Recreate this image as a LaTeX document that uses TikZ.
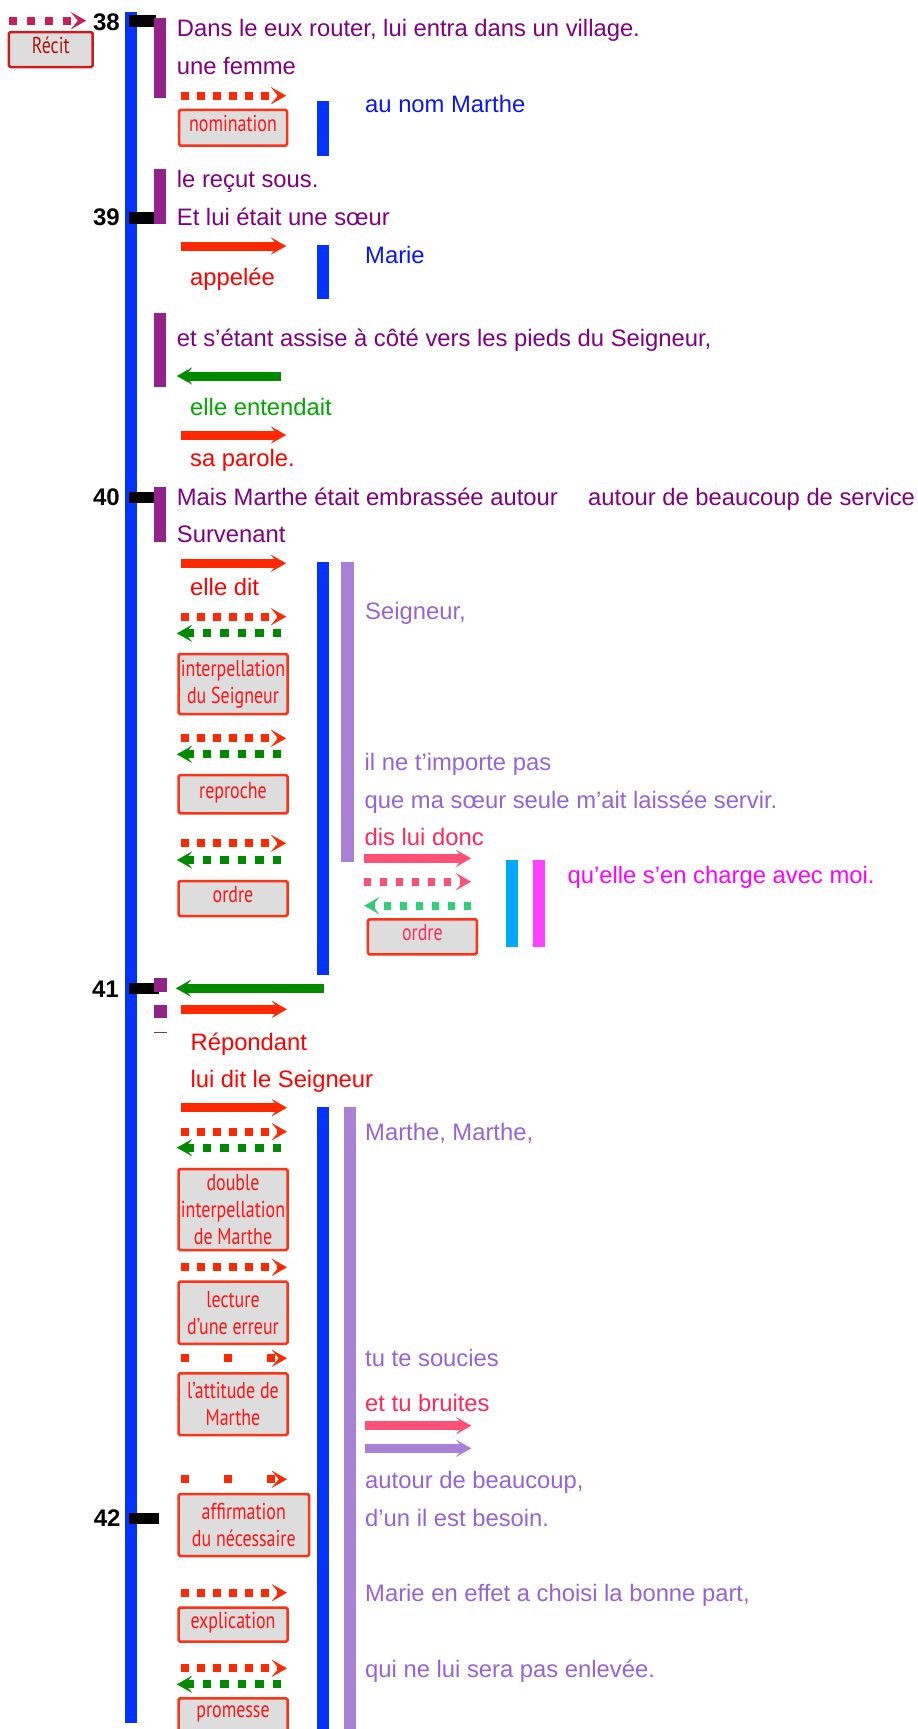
\documentclass[tikz,border=0pt]{standalone}
\usepackage{fontspec}
\setmainfont{Liberation Sans}
\newfontfamily\boxfont[FakeStretch=0.78]{PT Sans}
\usetikzlibrary{arrows.meta}
\definecolor{mainblue}{RGB}{4,50,255}
\definecolor{txtblue}{RGB}{10,20,255}
\definecolor{txtpurple}{RGB}{128,0,128}
\definecolor{barpurple}{RGB}{146,35,140}
\definecolor{txtred}{RGB}{255,0,0}
\definecolor{arrred}{RGB}{255,40,0}
\definecolor{arrgreen}{RGB}{0,138,0}
\definecolor{txtgreen}{RGB}{0,168,0}
\definecolor{txtlav}{RGB}{150,100,210}
\definecolor{barlav}{RGB}{169,128,214}
\definecolor{txtpink}{RGB}{255,40,90}
\definecolor{arrpink}{RGB}{255,80,120}
\definecolor{lightgreen}{RGB}{50,205,120}
\definecolor{barcyan}{RGB}{0,170,255}
\definecolor{barmag}{RGB}{255,64,255}
\definecolor{txtmag}{RGB}{255,0,255}
\definecolor{recitarr}{RGB}{200,30,90}
\definecolor{recitborder}{RGB}{200,30,30}
\definecolor{recittxt}{RGB}{175,20,10}
\definecolor{boxborder}{RGB}{255,50,20}
\definecolor{boxfill}{RGB}{221,221,221}
\definecolor{boxtxt}{RGB}{255,20,20}
\begin{document}
\begin{tikzpicture}[x=1pt,y=-1pt,
  txt/.style={anchor=base west, inner sep=0pt, font=\fontsize{23.8}{28}\selectfont},
  num/.style={anchor=east, inner sep=0pt, font=\fontsize{24}{28}\selectfont\bfseries},
  lbox/.style={draw=boxborder, fill=boxfill, line width=2.5pt, rounded corners=1.5pt,
     text=boxtxt, font=\boxfont\fontsize{23}{27}\selectfont, align=center, inner sep=0pt},
  sbox/.style={lbox, text height=17pt, text depth=9pt},
  tipstyle/.style={-{Stealth[length=15pt,width=17pt,inset=7pt,line width=0.1pt]}},
  solidarr/.style={tipstyle, line width=9pt},
  dotarr/.style={tipstyle, line width=8pt, dash pattern=on 8pt off 8pt},
  dotarrl/.style={tipstyle, line width=8pt, dash pattern=on 8.5pt off 9pt},
  sparsearr/.style={tipstyle, line width=8pt, dash pattern=on 8pt off 35pt},
  pinkdot/.style={tipstyle, line width=8pt, dash pattern=on 7pt off 9pt},
]
\useasboundingbox (0,0) rectangle (918,1729);
\clip (0,0) rectangle (918,1729);

% ---- main vertical bar
\fill[mainblue] (125,12) rectangle (137,1723);

% ---- verse ticks and numbers
\fill[black] (129,15) rectangle (156,27);
\fill[black] (129,212) rectangle (156,224);
\fill[black] (129,491.7) rectangle (156,503.3);
\fill[black] (128.6,983.3) rectangle (159,994.3);
\fill[black] (128.6,1512.7) rectangle (159,1524.3);
\node[num] (n38) at (120,22) {38};
\node[num] (n39) at (120,217.7) {39};
\node[num] (n40) at (120,497.5) {40};
\node[num] (n41) at (119,989.5) {41};
\node[num] (n42) at (120.7,1518.5) {42};

% ---- purple bars
\fill[barpurple] (154,18) rectangle (166,98);
\fill[barpurple] (154,169) rectangle (166,224);
\fill[barpurple] (154,313) rectangle (166,387);
\fill[barpurple] (154,487) rectangle (166,542);
\fill[barpurple] (154,978.3) rectangle (166.8,991.7);
\fill[barpurple] (154,1005) rectangle (166.8,1018.3);
\draw[barpurple, line width=1pt] (154,1032.3) -- (166.8,1032.3);

% ---- secondary bars
\fill[mainblue] (317,101) rectangle (329,156);
\fill[mainblue] (317,245) rectangle (329,299);
\fill[mainblue] (317,562.3) rectangle (329,975);
\fill[barlav] (341.2,562.3) rectangle (353.9,862.3);
\fill[barcyan] (506,860) rectangle (518,946.7);
\fill[barmag] (532.5,860) rectangle (544.5,946.7);
\fill[mainblue] (317,1106.7) rectangle (329,1740);
\fill[barlav] (343.6,1106.7) rectangle (356,1740);

% ---- Récit
\draw[tipstyle, recitarr, line width=8pt, dash pattern=on 8pt off 10pt] (9,20.7) coordinate (ra) -- (86,20.7) coordinate (rb);
\node[sbox, draw=recitborder, text=recittxt, minimum width=83.7pt, minimum height=35pt] (recit) at (50.8,49.5) {Récit};

% ---- texts
\node[txt, txtpurple] (t1) at (176.7,36) {Dans le eux router, lui entra dans un village.};
\node[txt, txtpurple] (t2) at (176.7,74) {une femme};
\node[txt, txtblue] (t3) at (365,112.7) {au nom Marthe};
\node[txt, txtpurple] (t4) at (176.7,187) {le reçut sous.};
\node[txt, txtpurple] (t5) at (176.7,225) {Et lui était une sœur};
\node[txt, txtblue] (t6) at (365,263) {Marie};
\node[txt, txtred] (t7) at (190,285) {appelée};
\node[txt, txtpurple] (t8) at (176.7,346) {et s’étant assise à côté vers les pieds du Seigneur,};
\node[txt, txtgreen] (t9) at (190,415) {elle entendait};
\node[txt, txtred] (t10) at (190,466.7) {sa parole.};
\node[txt, txtpurple] (t11) at (176.7,505) {Mais Marthe était embrassée autour};
\node[txt, txtpurple] (t12) at (588,505) {autour de beaucoup de service};
\node[txt, txtpurple] (t13) at (176.7,542.5) {Survenant};
\node[txt, txtred] (t14) at (190,595) {elle dit};
\node[txt, txtlav] (t15) at (365,619) {Seigneur,};
\node[txt, txtlav] (t16) at (364.5,770) {il ne t’importe pas};
\node[txt, txtlav] (t17) at (364.5,808.3) {que ma sœur seule m’ait laissée servir.};
\node[txt, txtpink] (t18) at (364.5,845) {dis lui donc};
\node[txt, txtmag] (t19) at (567.4,883.3) {qu’elle s’en charge avec moi.};
\node[txt, txtred] (t20) at (190.4,1050) {Répondant};
\node[txt, txtred] (t21) at (190.4,1087.7) {lui dit le Seigneur};
\node[txt, txtlav] (t22) at (365,1140) {Marthe, Marthe,};
\node[txt, txtlav] (t23) at (365,1366.7) {tu te soucies};
\node[txt, txtpink] (t24) at (365,1411.7) {et tu bruites};
\node[txt, txtlav] (t25) at (365,1488.3) {autour de beaucoup,};
\node[txt, txtlav] (t26) at (365,1526) {d’un il est besoin.};
\node[txt, txtlav] (t27) at (365,1601.7) {Marie en effet a choisi la bonne part,};
\node[txt, txtlav] (t28) at (365,1677.3) {qui ne lui sera pas enlevée.};

% ---- label boxes
\node[sbox, minimum width=108pt, minimum height=35.7pt] (b1) at (233,127.8) {nomination};
\node[lbox, minimum width=109pt, minimum height=60pt] (b2) at (233,684) {interpellation\\du Seigneur};
\node[sbox, minimum width=109pt, minimum height=38.3pt] (b3) at (233,794.2) {reproche};
\node[sbox, minimum width=109pt, minimum height=35pt] (b4) at (233,898.5) {ordre};
\node[sbox, text=txtpink, minimum width=109pt, minimum height=35pt] (b5) at (422.4,936.8) {ordre};
\node[lbox, minimum width=109pt, minimum height=81pt] (b6) at (233,1209.5) {double\\interpellation\\de Marthe};
\node[lbox, minimum width=109pt, minimum height=62.3pt] (b7) at (233,1312.8) {lecture\\d’une erreur};
\node[lbox, minimum width=109pt, minimum height=61.7pt] (b8) at (233,1404.2) {l’attitude de\\Marthe};
\node[lbox, minimum width=130.4pt, minimum height=62pt] (b9) at (243.8,1525) {affirmation\\du nécessaire};
\node[sbox, minimum width=109pt, minimum height=34pt] (b10) at (233,1624.7) {explication};
\draw[lbox] (178.6,1698.3) rectangle (287.5,1745);
\node[inner sep=0pt, text=boxtxt, font=\boxfont\fontsize{23}{27}\selectfont] (b11) at (233,1714) {promesse};

% ---- arrows
\draw[dotarr, arrred] (181,95.7) coordinate (a1s) -- (286,95.7) coordinate (a1e);
\draw[solidarr, arrred] (181,246) coordinate (a2s) -- (286,246) coordinate (a2e);
\draw[solidarr, arrgreen] (281,376) coordinate (a3s) -- (177,376) coordinate (a3e);
\draw[solidarr, arrred] (181,435) coordinate (a4s) -- (286,435) coordinate (a4e);
\draw[solidarr, arrred] (181,563.3) coordinate (a5s) -- (286,563.3) coordinate (a5e);
\draw[dotarr, arrred] (181,616.7) coordinate (a6s) -- (286,616.7) coordinate (a6e);
\draw[dotarrl, arrgreen] (281,633.3) coordinate (a7s) -- (177,633.3) coordinate (a7e);
\draw[dotarr, arrred] (181,738.3) coordinate (a8s) -- (286,738.3) coordinate (a8e);
\draw[dotarrl, arrgreen] (281,754.3) coordinate (a9s) -- (177,754.3) coordinate (a9e);
\draw[dotarr, arrred] (181,843.3) coordinate (a10s) -- (286,843.3) coordinate (a10e);
\draw[dotarrl, arrgreen] (281,860) coordinate (a11s) -- (177,860) coordinate (a11e);
\draw[solidarr, arrpink] (364.3,858.3) coordinate (a12s) -- (471,858.3) coordinate (a12e);
\draw[pinkdot, arrpink] (364.3,881.7) coordinate (a13s) -- (471,881.7) coordinate (a13e);
\draw[pinkdot, lightgreen] (471,905.7) coordinate (a14s) -- (364.3,905.7) coordinate (a14e);
\draw[solidarr, arrgreen] (324,988.3) coordinate (a15s) -- (176,988.3) coordinate (a15e);
\draw[solidarr, arrred] (181,1009.3) coordinate (a16s) -- (286.8,1009.3) coordinate (a16e);
\draw[solidarr, arrred] (181,1107.7) coordinate (a17s) -- (286.8,1107.7) coordinate (a17e);
\draw[dotarr, arrred] (181,1131.7) coordinate (a18s) -- (286.8,1131.7) coordinate (a18e);
\draw[dotarrl, arrgreen] (281,1147.7) coordinate (a19s) -- (177,1147.7) coordinate (a19e);
\draw[dotarr, arrred] (181,1267.3) coordinate (a20s) -- (286.8,1267.3) coordinate (a20e);
\draw[sparsearr, arrred] (181,1358.3) coordinate (a21s) -- (286.8,1358.3) coordinate (a21e);
\draw[sparsearr, arrred] (181,1479.3) coordinate (a22s) -- (286.8,1479.3) coordinate (a22e);
\draw[solidarr, arrpink] (365.4,1425.7) coordinate (a23s) -- (471.2,1425.7) coordinate (a23e);
\draw[solidarr, barlav] (365.4,1448.3) coordinate (a24s) -- (471.2,1448.3) coordinate (a24e);
\draw[dotarr, arrred] (181,1592.7) coordinate (a25s) -- (286.8,1592.7) coordinate (a25e);
\draw[dotarr, arrred] (181,1668.3) coordinate (a26s) -- (286.8,1668.3) coordinate (a26e);
\draw[dotarrl, arrgreen] (281,1684.3) coordinate (a27s) -- (177,1684.3) coordinate (a27e);
\end{tikzpicture}
\end{document}
